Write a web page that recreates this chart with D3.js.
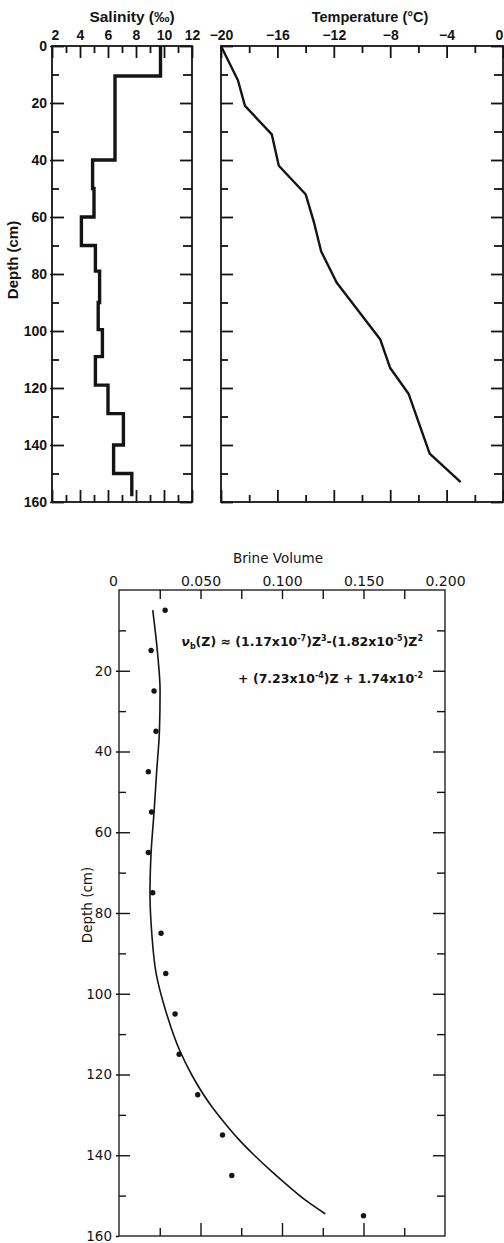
<!DOCTYPE html>
<html>
<head>
<meta charset="utf-8">
<script src="https://cdn.jsdelivr.net/npm/d3@7"></script>
<style>
    body { margin: 0; background: #ffffff; }
    svg  { display: block; }
</style>
</head>
<body>
<script>
// the following arrays hold the values
const depth_labels        = [0, 20, 40, 60, 80, 100, 120, 140, 160];
const depth_minor         = [10, 30, 50, 70, 90, 110, 130, 150];

const salinity_labels     = [2, 4, 6, 8, 10, 12];
const salinity_minor      = [3, 5, 7, 9, 11];
const salinity_layer_top  = [0, 10.5, 40, 50, 60, 70, 79, 90, 99.5, 109, 119, 129, 140, 150, 158];
const salinity_values     = [9.75, 6.5, 4.9, 5.0, 4.1, 5.1, 5.4, 5.3, 5.6, 5.1, 6.0, 7.1, 6.4, 7.7, 7.7];

const temperature_labels  = [-20, -16, -12, -8, -4, 0];
const temperature_minor   = [-18, -14, -10, -6, -2];
const temperature_depth   = [0, 12, 21, 31, 42, 52, 62, 72, 83, 103, 113, 122, 143, 153];
const temperature_values  = [-20, -18.8, -18.3, -16.4, -15.9, -14.0, -13.4, -12.9, -11.8, -8.7, -8.0, -6.7, -5.2, -3.0];

const brine_labels        = [0, 0.05, 0.1, 0.15, 0.2];
const brine_label_text    = ["0", "0.050", "0.100", "0.150", "0.200"];
const brine_minor         = [0.025, 0.075, 0.125, 0.175];
const brine_depth_labels  = [20, 40, 60, 80, 100, 120, 140, 160];
const brine_depth         = [5, 15, 25, 35, 45, 55, 65, 75, 85, 95, 105, 115, 125, 135, 145, 155];
const brine_values        = [0.0283, 0.0197, 0.0215, 0.0227, 0.018, 0.020, 0.018, 0.0207, 0.0258, 0.0287, 0.0344, 0.0369, 0.0483, 0.0635, 0.0692, 0.150];
const fit_depth           = [5, 15, 25, 35, 45, 55, 65, 75, 85, 95, 104, 114, 120, 128, 132, 136, 140, 144, 148, 151, 154.5];
const fit_values          = [0.0207, 0.0235, 0.0252, 0.0248, 0.0231, 0.0215, 0.0197, 0.019, 0.0201, 0.0228, 0.0285, 0.0372, 0.0445, 0.057, 0.0648, 0.0733, 0.083, 0.0936, 0.105, 0.114, 0.1265];

const equation_line_1 = [["ν", "it"], ["b", "sub"], ["(Z) ≈ (1.17x10", null], ["-7", "sup"], [")Z", null], ["3", "sup"],
                         ["-(1.82x10", null], ["-5", "sup"], [")Z", null], ["2", "sup"]];
const equation_line_2 = [["+ (7.23x10", null], ["-4", "sup"], [")Z + 1.74x10", null], ["-2", "sup"]];

const ink       = "#141414";
const font      = "'Liberation Sans', Arial, sans-serif";
const font_wide = "'DejaVu Sans', Verdana, sans-serif";

var svg = d3.select("body").append("svg")
    .attr("width",  504)
    .attr("height", 1243);

// small helper: inward ticks without labels, the domain line is dropped
function ticks(axis_fn, scale, transform, values, size, width)
{
    svg.append("g")
        .attr("transform", transform)
        .call(axis_fn(scale).tickValues(values).tickSize(size).tickFormat(""))
        .call(g => g.select(".domain").remove())
        .call(g => g.selectAll("line").attr("stroke", ink).attr("stroke-width", width));
}

// small helper: labels only (font set after the call, the axis writes its own)
function labels(axis_fn, scale, transform, values, format, family, size, weight, padding, stub)
{
    return svg.append("g")
        .attr("transform", transform)
        .call(axis_fn(scale).tickValues(values).tickSize(stub).tickPadding(padding).tickFormat(format))
        .attr("font-family", family)
        .attr("font-size",   size)
        .attr("font-weight", weight)
        .call(g => g.select(".domain").remove())
        .call(g => g.selectAll("line").attr("stroke", ink).attr("stroke-width", 1.5))
        .call(g => g.selectAll("text").attr("fill", ink));
}

function title(x, y, rotate, family, size, weight, text)
{
    svg.append("text")
        .attr("transform", `translate(${x},${y}) rotate(${rotate})`)
        .attr("text-anchor", "middle")
        .attr("font-family", family).attr("font-size", size).attr("font-weight", weight)
        .attr("fill", ink)
        .text(text);
}

// ---------------------------------------------------------------- top panels
var top_y = d3.scaleLinear().domain([0, 160]).range([46, 502]);

var sal_x  = d3.scaleLinear().domain([2, 12]).range([52, 192]);
var temp_x = d3.scaleLinear().domain([-20, 0]).range([221, 503]);

[[sal_x, salinity_labels, salinity_minor], [temp_x, temperature_labels, temperature_minor]].forEach(panel =>
{
    let x = panel[0];
    let x0 = x.range()[0], x1 = x.range()[1];

    svg.append("rect")
        .attr("x", x0).attr("y", top_y(0))
        .attr("width", x1 - x0).attr("height", top_y(160) - top_y(0))
        .attr("fill", "none").attr("stroke", ink).attr("stroke-width", 1.8);

    ticks(d3.axisBottom, x, `translate(0,${top_y(0)})`,   panel[1], 12, 1.8);
    ticks(d3.axisBottom, x, `translate(0,${top_y(0)})`,   panel[2], 7,  1.8);
    ticks(d3.axisTop,    x, `translate(0,${top_y(160)})`, panel[1], 12, 1.8);
    ticks(d3.axisTop,    x, `translate(0,${top_y(160)})`, panel[2], 7,  1.8);

    ticks(d3.axisRight, top_y, `translate(${x0},0)`, depth_labels, 12, 1.8);
    ticks(d3.axisRight, top_y, `translate(${x0},0)`, depth_minor,  7,  1.8);
    ticks(d3.axisLeft,  top_y, `translate(${x1},0)`, depth_labels, 12, 1.8);
    ticks(d3.axisLeft,  top_y, `translate(${x1},0)`, depth_minor,  9,  1.8);
});

labels(d3.axisTop, sal_x, `translate(0,${top_y(0)})`, salinity_labels, d => d, font, 14, "bold", 6, 0)
    .selectAll("text").attr("dx", (d, i) => i === 0 ? 3 : 0);

labels(d3.axisTop, temp_x, `translate(0,${top_y(0)})`, temperature_labels, d => d === 0 ? "0" : "−" + Math.abs(d), font, 14, "bold", 6, 0)
    .selectAll("text").attr("dx", d => d === 0 ? -4 : 0);

labels(d3.axisLeft, top_y, `translate(${sal_x(2)},0)`, depth_labels, d => d, font, 14, "bold", 3, 2);

title(132, 22,  0,   font, 15.5, "bold", "Salinity (‰)");
title(370, 22,  0,   font, 14.5, "bold", "Temperature (°C)");
title(18,  260, -90, font, 15,   "bold", "Depth (cm)");

// salinity profile as a step line
var salinity_points = salinity_values.map((v, i) => [v, salinity_layer_top[i]]);

svg.append("path")
    .datum(salinity_points)
    .attr("fill", "none")
    .attr("stroke", ink)
    .attr("stroke-width", 3.4)
    .attr("d", d3.line().x(d => sal_x(d[0])).y(d => top_y(d[1])).curve(d3.curveStepBefore));

// temperature profile
var temperature_points = temperature_values.map((v, i) => [v, temperature_depth[i]]);

svg.append("path")
    .datum(temperature_points)
    .attr("fill", "none")
    .attr("stroke", ink)
    .attr("stroke-width", 2.4)
    .attr("stroke-linejoin", "round")
    .attr("d", d3.line().x(d => temp_x(d[0])).y(d => top_y(d[1])));

// ---------------------------------------------------------------- brine panel
var bot_y   = d3.scaleLinear().domain([0, 160]).range([590, 1236]);
var brine_x = d3.scaleLinear().domain([0, 0.2]).range([119, 445]);

svg.append("rect")
    .attr("x", brine_x(0)).attr("y", bot_y(0))
    .attr("width", brine_x(0.2) - brine_x(0)).attr("height", bot_y(160) - bot_y(0))
    .attr("fill", "none").attr("stroke", "#222").attr("stroke-width", 1.4);

ticks(d3.axisBottom, brine_x, `translate(0,${bot_y(0)})`,   brine_labels.slice(1, 4), 9, 1.4);
ticks(d3.axisBottom, brine_x, `translate(0,${bot_y(0)})`,   brine_minor,              9, 1.4);
ticks(d3.axisTop,    brine_x, `translate(0,${bot_y(160)})`, brine_labels.slice(1, 4), 13, 1.4);
ticks(d3.axisTop,    brine_x, `translate(0,${bot_y(160)})`, brine_minor,              8, 1.4);

ticks(d3.axisRight, bot_y, `translate(${brine_x(0)},0)`,   brine_depth_labels.slice(0, 7), 11, 1.4);
ticks(d3.axisRight, bot_y, `translate(${brine_x(0)},0)`,   depth_minor,                    7,  1.4);
ticks(d3.axisLeft,  bot_y, `translate(${brine_x(0.2)},0)`, brine_depth_labels.slice(0, 7), 12, 1.4);
ticks(d3.axisLeft,  bot_y, `translate(${brine_x(0.2)},0)`, depth_minor,                    8,  1.4);

labels(d3.axisTop, brine_x, `translate(0,${bot_y(0)})`, brine_labels, (d, i) => brine_label_text[i], font_wide, 14, "normal", 4, 0)
    .selectAll("text").attr("dx", (d, i) => i === 0 ? -6 : 0);

labels(d3.axisLeft, bot_y, `translate(${brine_x(0)},0)`, brine_depth_labels, d => d, font_wide, 13.5, "normal", 4, 3);

title(278, 563, 0,   font_wide, 13.5, "normal", "Brine Volume");
title(92,  905, -90, font_wide, 13.5, "normal", "Depth (cm)");

// fitted curve
var fit_points = fit_values.map((v, i) => [v, fit_depth[i]]);

svg.append("path")
    .datum(fit_points)
    .attr("fill", "none")
    .attr("stroke", ink)
    .attr("stroke-width", 1.6)
    .attr("d", d3.line().x(d => brine_x(d[0])).y(d => bot_y(d[1])).curve(d3.curveMonotoneY));

// measured points
svg.selectAll(".brine_dot")
    .data(brine_values.map((v, i) => [v, brine_depth[i]]))
    .enter().append("circle")
    .attr("class", "brine_dot")
    .attr("cx", d => brine_x(d[0]))
    .attr("cy", d => bot_y(d[1]))
    .attr("r",  2.7)
    .attr("fill", ink);

// equation, built from tspans so the exponents sit raised
function equation(parts, x, y)
{
    var text = svg.append("text")
        .attr("x", x).attr("y", y)
        .attr("text-anchor", "end")
        .attr("font-family", font_wide).attr("font-size", 12.5).attr("font-weight", "bold")
        .attr("fill", ink);

    var shift = 0;

    parts.forEach(p =>
    {
        var target = p[1] === "sup" ? -5 : (p[1] === "sub" ? 3 : 0);
        var span   = text.append("tspan")
            .attr("dy", target - shift)
            .text(p[0]);

        if (p[1] === "sup" || p[1] === "sub") span.attr("font-size", 8);
        if (p[1] === "it")                      span.attr("font-style", "italic");

        shift = target;
    });
}

equation(equation_line_1, 423, 646);
equation(equation_line_2, 423, 683);
</script>
</body>
</html>
